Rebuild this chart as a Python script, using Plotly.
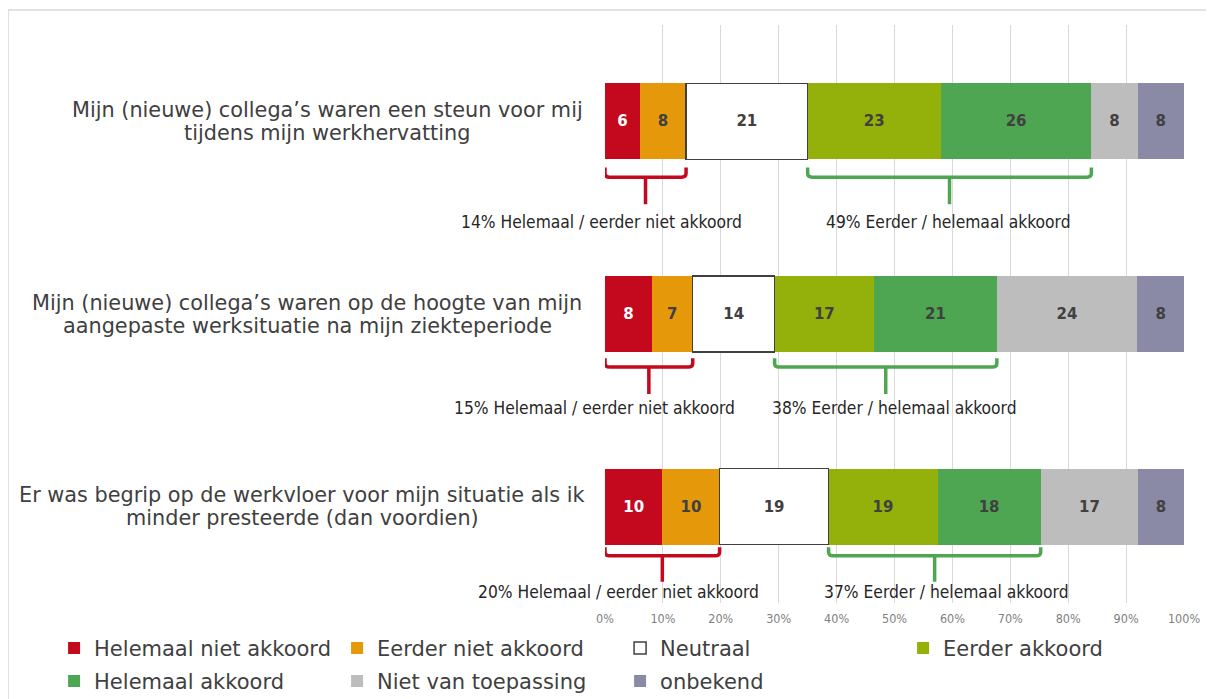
import plotly.graph_objects as go

# data
statements = [
    "Mijn (nieuwe) collega’s waren een steun voor mij<br>tijdens mijn werkhervatting",
    "Mijn (nieuwe) collega’s waren op de hoogte van mijn<br>aangepaste werksituatie na mijn ziekteperiode",
    "Er was begrip op de werkvloer voor mijn situatie als ik<br>minder presteerde (dan voordien)",
]
answer_labels = ["Helemaal niet akkoord", "Eerder niet akkoord", "Neutraal",
                 "Eerder akkoord", "Helemaal akkoord", "Niet van toepassing", "onbekend"]
helemaal_niet = [6, 8, 10]
eerder_niet = [8, 7, 10]
neutraal = [21, 14, 19]
eerder_akkoord = [23, 17, 19]
helemaal_akkoord = [26, 21, 18]
niet_van_toepassing = [8, 24, 17]
onbekend = [8, 8, 8]
x_ticks = [0, 10, 20, 30, 40, 50, 60, 70, 80, 90, 100]

series = [helemaal_niet, eerder_niet, neutraal, eerder_akkoord,
          helemaal_akkoord, niet_van_toepassing, onbekend]
colors = ["#C4081D", "#E5980A", "#FFFFFF", "#93B10A", "#4EA653", "#BDBDBD", "#8A8AA6"]
text_colors = ["#FFFFFF", "#404040", "#404040", "#404040", "#404040", "#404040", "#404040"]

rows = list(range(len(statements)))
fig = go.Figure()

for k, (name, vals, col, tcol) in enumerate(zip(answer_labels, series, colors, text_colors)):
    fig.add_trace(go.Bar(
        x=vals, y=rows, orientation='h', name=name,
        legend='legend' if k < 4 else 'legend2',
        marker=dict(color=col,
                    line=dict(color="#404040" if col == "#FFFFFF" else col,
                              width=1.5 if col == "#FFFFFF" else 0)),
        text=[str(v) for v in vals], textposition='inside', insidetextanchor='middle',
        textangle=0, constraintext='none',
        textfont=dict(family="DejaVu Sans", size=15, color=tcol, weight='bold'),
        width=0.395, hoverinfo='skip',
    ))

plot_l, plot_w = 597, 579


def paper_y(yv):
    # y data (reversed range 2.5 .. -0.5) -> paper fraction
    return 1 - (yv + 0.5) / 3


# brackets (Helemaal/eerder niet akkoord  and  Eerder/helemaal akkoord)
# per row offsets below bar centre: bracket top, horizontal, stem end, label
br_top = [0.24, 0.23, 0.21]
br_mid = [0.29, 0.275, 0.255]
br_stem = [0.43, 0.415, 0.39]
br_label = [0.52, 0.49, 0.445]
red_shift = [-44, -54, -44]
green_shift = [-1, 9, 12]
for i in rows:
    tot = sum(s[i] for s in series)
    cum = [0]
    for s in series:
        cum.append(cum[-1] + s[i] * 100 / tot)
    groups = [
        (cum[0], cum[2], helemaal_niet[i] + eerder_niet[i],
         "Helemaal / eerder niet akkoord", "#C4081D", red_shift[i]),
        (cum[3], cum[5], eerder_akkoord[i] + helemaal_akkoord[i],
         "Eerder / helemaal akkoord", "#4EA653", green_shift[i]),
    ]
    for x0, x1, pct, lab, col, shift in groups:
        yt, yh, ys = i + br_top[i], i + br_mid[i], i + br_stem[i]
        xm = (x0 + x1) / 2
        r = 0.8
        path = (f"M {x0},{yt} L {x0},{yh - 0.02} Q {x0},{yh} {x0 + r},{yh} "
                f"L {x1 - r},{yh} Q {x1},{yh} {x1},{yh - 0.02} L {x1},{yt} "
                f"M {xm},{yh} L {xm},{ys}")
        fig.add_shape(type='path', path=path, xref='x', yref='y',
                      line=dict(color=col, width=3.5))
        fig.add_annotation(x=xm, y=paper_y(i + br_label[i]), xref='x', yref='paper',
                           xshift=shift, text=f"{pct}% {lab}", showarrow=False,
                           yanchor='middle',
                           font=dict(family="DejaVu Sans Condensed", size=17.3, color="#262626"))

# statement labels, one annotation per line (tighter line spacing), centred per block
label_center_px = [319, 299, 294]
for i, s in enumerate(statements):
    lines = s.split("<br>")
    n = len(lines)
    for j, line in enumerate(lines):
        fig.add_annotation(x=(label_center_px[i] - plot_l) / plot_w, y=paper_y(i),
                           xref='paper', yref='paper', text=line,
                           yshift=(n - 1) / 2 * 23 - j * 23,
                           showarrow=False, xanchor='center', yanchor='middle',
                           font=dict(family="DejaVu Sans", size=20.8, color="#404040"))

# outer frame
fig.add_shape(type='rect', xref='paper', yref='paper', x0=-1.031, x1=1.2, y0=-0.3, y1=1.026,
              line=dict(color="#D9D9D9", width=1.5), layer='below')

legend_font = dict(family="DejaVu Sans", size=21, color="#404040")
fig.update_layout(
    barmode='stack', barnorm='percent',
    width=1206, height=691,
    margin=dict(l=plot_l, r=30, t=17, b=96, autoexpand=False),
    plot_bgcolor='white', paper_bgcolor='white',
    xaxis=dict(range=[0, 100], tickvals=x_ticks, ticktext=[f"{t}%" for t in x_ticks],
               showgrid=True, gridcolor="#D9D9D9", gridwidth=1, zeroline=False,
               showline=False, ticks='', ticklabelstandoff=6,
               tickfont=dict(family="DejaVu Sans Condensed", size=12.5, color="#808080")),
    yaxis=dict(range=[2.5, -0.5], showticklabels=False, showgrid=False, zeroline=False),
    legend=dict(orientation='h', x=-0.9515, y=-0.043, xanchor='left', yanchor='top',
                entrywidth=238, traceorder='normal', font=legend_font),
    legend2=dict(orientation='h', x=-0.9515, y=-0.100, xanchor='left', yanchor='top',
                 entrywidth=238, traceorder='normal', font=legend_font),
    showlegend=True,
)

fig.write_html("out.html")
